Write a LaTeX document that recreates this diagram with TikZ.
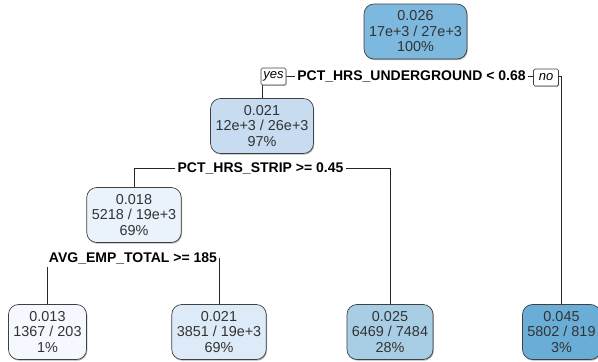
\documentclass[tikz,border=0pt]{standalone}
\usepackage{fontspec}
\setmainfont{Liberation Sans}
\usetikzlibrary{backgrounds,shadows}

\definecolor{fillroot}{RGB}{125,185,222}
\definecolor{fillnodeb}{RGB}{199,220,240}
\definecolor{fillnoded}{RGB}{234,242,251}
\definecolor{fillleafa}{RGB}{245,249,255}
\definecolor{fillleafb}{RGB}{221,234,247}
\definecolor{fillleafc}{RGB}{168,206,230}
\definecolor{fillleafd}{RGB}{106,174,216}

\tikzset{
	box/.style={draw=black!75, line width=0.7pt, rounded corners=10pt, align=center,
		minimum height=55pt, inner xsep=5pt, text=black!80,
		font=\fontsize{14.4}{15.5}\selectfont,
		drop shadow={shadow xshift=0.8pt, shadow yshift=-1.2pt, opacity=0.6, fill=black!50}},
	split/.style={fill=white, inner xsep=2pt, inner ysep=3pt,
		font=\fontsize{14}{16}\selectfont\bfseries},
	yesno/.style={draw=black!75, line width=0.7pt, fill=white, rounded corners=1.5pt, inner sep=1pt,
		minimum width=25pt, minimum height=17pt, font=\fontsize{13}{15}\selectfont\itshape,
		drop shadow={shadow xshift=0.5pt, shadow yshift=-0.8pt, opacity=0.5, fill=black!50}},
	branch/.style={draw=black!85, line width=0.8pt}
}

\begin{document}
\begin{tikzpicture}[x=1pt, y=-1pt]
			%%%%% START %%%%%
			\useasboundingbox (0, 0) rectangle (598, 362);
			\clip (0, 0) rectangle (598, 362);
			
			% nodes
			\node[box, fill=fillroot] (root) at (415.5, 31.5) {0.026\\17e+3 / 27e+3\\100\%};
			\node[box, fill=fillnodeb] (n2) at (262, 126) {0.021\\12e+3 / 26e+3\\97\%};
			\node[box, fill=fillnoded] (n4) at (134, 215) {0.018\\5218 / 19e+3\\69\%};
			
			% leaves
			\node[box, fill=fillleafa] (l1) at (47.5, 332) {0.013\\1367 / 203\\1\%};
			\node[box, fill=fillleafb] (l2) at (219, 332) {0.021\\3851 / 19e+3\\69\%};
			\node[box, fill=fillleafc] (l3) at (390, 332) {0.025\\6469 / 7484\\28\%};
			\node[box, fill=fillleafd] (l4) at (561.5, 332) {0.045\\5802 / 819\\3\%};
			
			% splits
			\node[split] (s1) at (411.5, 76.5) {PCT\_HRS\_UNDERGROUND < 0.68};
			\node[split] (s2) at (260.5, 168) {PCT\_HRS\_STRIP >= 0.45};
			\node[split] (s3) at (133, 258) {AVG\_EMP\_TOTAL >= 185};
			
			\node[yesno] (yes) at (273.5, 76.5) {yes};
			\node[yesno] (no) at (546, 77.5) {no};
			
			% branches
			\begin{pgfonlayer}{background}
				\draw[branch] (s1) -| (n2.north);
				\draw[branch] (s1) -| (l4.north);
				\draw[branch] (s2) -| (n4.north);
				\draw[branch] (s2) -| (l3.north);
				\draw[branch] (s3) -| (l1.north);
				\draw[branch] (s3) -| (l2.north);
			\end{pgfonlayer}
			
			%%%%% END %%%%%
\end{tikzpicture}
\end{document}
